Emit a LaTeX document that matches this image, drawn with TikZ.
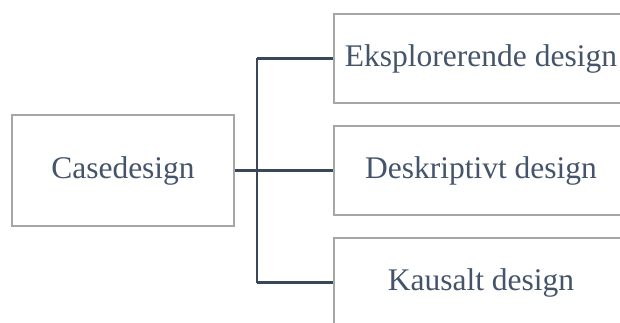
\documentclass[tikz,border=0pt]{standalone}
\usepackage{fontspec}
\setmainfont{Liberation Serif}
\definecolor{boxgray}{HTML}{A6A6A6}
\definecolor{linecol}{HTML}{3A4659}
\definecolor{textcol}{HTML}{44546A}
\begin{document}
\begin{tikzpicture}[x=1pt,y=1pt,
  box/.style={draw=boxgray,line width=2pt,fill=white,text=textcol,
    font=\fontsize{31.5}{37}\selectfont,inner sep=0pt,anchor=center},
  conn/.style={draw=linecol,line width=2.3pt}]
\useasboundingbox (0,0) rectangle (620,322);
\node[box,minimum width=222,minimum height=111] (case) at (123,151.5) {Casedesign};
\node[box,minimum width=294,minimum height=89] (eks) at (481,263.5) {Eksplorerende design};
\node[box,minimum width=294,minimum height=89] (des) at (481,151.5) {Deskriptivt design};
\node[box,minimum width=294,minimum height=89] (kau) at (481,39.5) {Kausalt design};
\coordinate (j) at (257,151.5);
\draw[conn] (case.east) -- (j);
\draw[conn] (j) -- (des.west);
\draw[conn] (j |- eks.west) -- (j |- kau.west);
\draw[conn] (j |- eks.west) -- (eks.west);
\draw[conn] (j |- kau.west) -- (kau.west);
\end{tikzpicture}
\end{document}
